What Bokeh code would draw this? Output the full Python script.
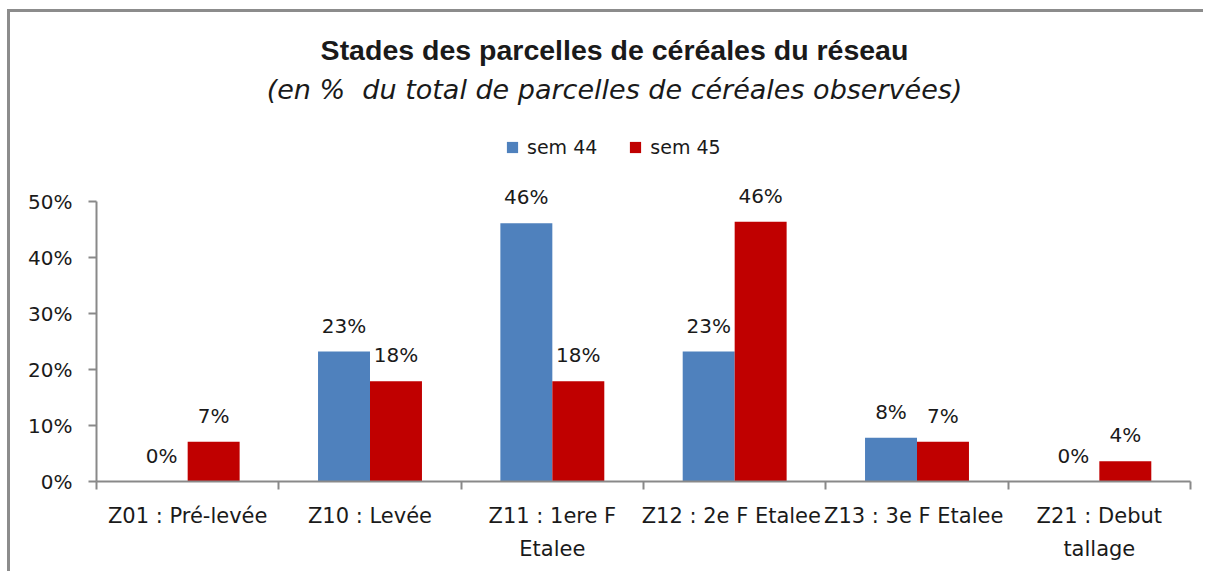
from bokeh.plotting import figure
from bokeh.models import (Range1d, LinearAxis, FixedTicker,
                          NumeralTickFormatter, ColumnDataSource, LabelSet, Label, Legend, LegendItem)
from bokeh.core.properties import value
from bokeh.embed import file_html
from bokeh.resources import INLINE

# ---- data ----
categories = ["Z01 : Pré-levée", "Z10 : Levée", "Z11 : 1ere F\nEtalee",
              "Z12 : 2e  F Etalee", "Z13 : 3e  F Etalee", "Z21 : Debut\ntallage"]
sem44 = [0.0, 0.232, 0.461, 0.232, 0.078, 0.0]
sem45 = [0.071, 0.179, 0.179, 0.464, 0.071, 0.036]
series_names = ["sem 44", "sem 45"]
y_ticks = [0.0, 0.1, 0.2, 0.3, 0.4, 0.5]
title_text = "Stades des parcelles de céréales du réseau"
subtitle_text = "(en %  du total de parcelles de céréales observées)"

BLUE = "#4F81BD"
RED = "#C00000"
AXIS = "#898989"
TXT = "#1a1a1a"
FONT = "DejaVu Sans"

n = len(categories)
centers = [i + 0.5 for i in range(n)]
off = 0.1425
bw = 0.285

src = ColumnDataSource(dict(
    x44=[c - off for c in centers], x45=[c + off for c in centers],
    s44=sem44, s45=sem45,
    l44=[f"{round(v * 100)}%" for v in sem44],
    l45=[f"{round(v * 100)}%" for v in sem45],
))

W, H = 1196, 562
BOTTOM = 93
# frame reaches the top of the canvas; 0.5 sits 280 px above the axis
y_top = (H - BOTTOM) / 560.0

p = figure(width=W, height=H, x_range=Range1d(0, n),
           y_range=Range1d(0, y_top), output_backend="svg", toolbar_location=None,
           x_axis_location=None, y_axis_location=None,
           min_border_left=86, min_border_right=16, min_border_top=0, min_border_bottom=BOTTOM)
p.grid.visible = False
p.outline_line_color = None
p.background_fill_color = "white"
p.border_fill_color = "white"
p.styles = {"margin-left": "7px", "margin-top": "9px",
            "border-left": "3px solid #8c8c8c", "border-top": "3px solid #8c8c8c"}

r44 = p.vbar(x="x44", top="s44", width=bw, source=src, fill_color=BLUE, line_color=None)
r45 = p.vbar(x="x45", top="s45", width=bw, source=src, fill_color=RED, line_color=None)

# y axis
yax = LinearAxis(ticker=FixedTicker(ticks=y_ticks), formatter=NumeralTickFormatter(format="0%"),
                 bounds=(y_ticks[0], y_ticks[-1]),
                 axis_line_color=AXIS, axis_line_width=2,
                 major_tick_line_color=AXIS, major_tick_line_width=2,
                 major_tick_in=0, major_tick_out=8, minor_tick_line_color=None,
                 major_label_text_font=FONT, major_label_text_font_size="20px",
                 major_label_text_color=TXT, major_label_standoff=16)
p.add_layout(yax, "left")

# x axis: labels at category centres, tick marks at category boundaries
xax = LinearAxis(ticker=FixedTicker(ticks=centers, minor_ticks=list(range(n + 1))),
                 major_label_overrides={c: lab for c, lab in zip(centers, categories)},
                 axis_line_color=AXIS, axis_line_width=2,
                 major_tick_line_color=None, major_tick_in=0, major_tick_out=0,
                 minor_tick_line_color=AXIS, minor_tick_line_width=2,
                 minor_tick_in=0, minor_tick_out=8,
                 major_label_text_font=FONT, major_label_text_font_size="21px",
                 major_label_text_color=TXT, major_label_standoff=14,
                 major_label_text_line_height=1.4)
p.add_layout(xax, "below")

# data labels
for xcol, col, lab in (("x44", "s44", "l44"), ("x45", "s45", "l45")):
    p.add_layout(LabelSet(x=xcol, y=col, text=lab, source=src,
                          text_align="center", text_baseline="middle", y_offset=26,
                          text_font=value(FONT), text_font_size=value("20px"),
                          text_color=TXT))

# titles (frame-relative screen units)
p.add_layout(Label(x=518, y=432, x_units="screen", y_units="screen", text=title_text,
                   text_align="center", text_baseline="middle", text_font="Liberation Sans",
                   text_font_style="bold", text_font_size="28.5px", text_color=TXT))
p.add_layout(Label(x=518, y=392, x_units="screen", y_units="screen",
                   text=subtitle_text.replace("  ", " \u00a0"),
                   text_align="center", text_baseline="middle", text_font=FONT,
                   text_font_style="italic", text_font_size="27px", text_color=TXT))

legend = Legend(items=[LegendItem(label=series_names[0], renderers=[r44]),
                       LegendItem(label=series_names[1], renderers=[r45])],
                location=(409, 323), orientation="horizontal", padding=0, margin=0,
                spacing=31, label_standoff=8, glyph_width=14, glyph_height=14,
                border_line_color=None, background_fill_alpha=0,
                label_text_font=FONT, label_text_font_size="19px", label_text_color=TXT)
p.add_layout(legend, "center")

open("out.html", "w").write(file_html(p, INLINE))
